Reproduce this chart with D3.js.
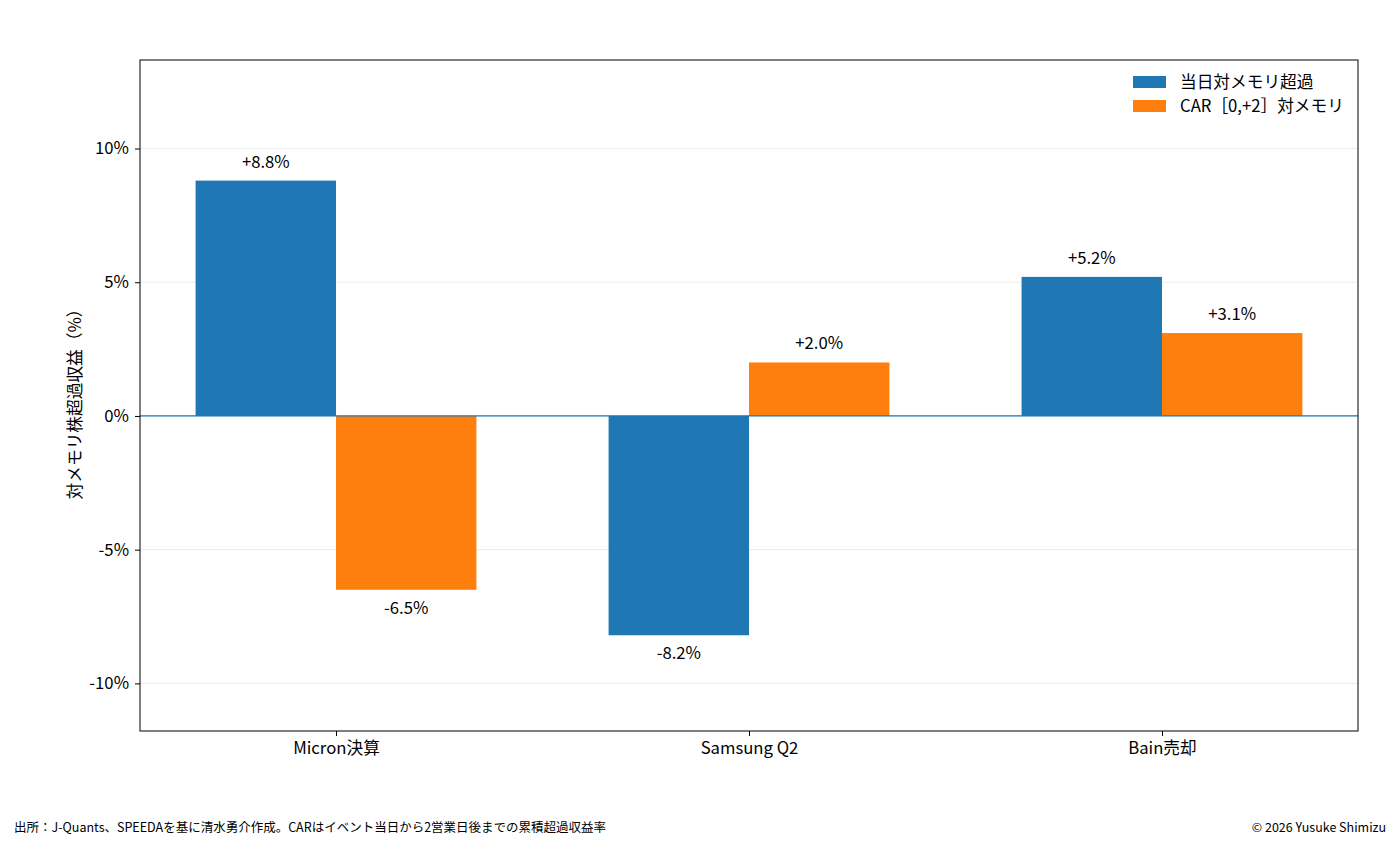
<!DOCTYPE html>
<html>
<head>
<meta charset="utf-8">
<script src="https://cdn.jsdelivr.net/npm/d3@7"></script>
<style>
body { margin: 0; background: #fff; }
text { font-family: "Noto Sans CJK JP", "Noto Sans", sans-serif; fill: #000; }
</style>
</head>
<body>
<div id="chart"></div>
<script>
// data
const categories = ["Micron決算", "Samsung Q2", "Bain売却"];
const sameDay = [8.8, -8.2, 5.2];
const car = [-6.5, 2.0, 3.1];
const seriesNames = ["当日対メモリ超過", "CAR［0,+2］対メモリ"];
const colors = ["#1f77b4", "#ff7f0e"];
const yTicks = [-10, -5, 0, 5, 10];

const outerWidth = 1400;
const outerHeight = 850;
const margin = { top: 60, right: 42, bottom: 119, left: 140 };
const width = outerWidth - margin.left - margin.right;
const height = outerHeight - margin.top - margin.bottom;
const fs = "16.7px";

const svg = d3.select("#chart").append("svg")
	.attr("width", outerWidth)
	.attr("height", outerHeight);

const g = svg.append("g")
	.attr("transform", `translate(${margin.left}, ${margin.top})`);

const barW = 0.34;
const x = d3.scaleLinear()
	.domain([-0.4746, categories.length - 1 + 0.4746])
	.range([0, width]);

const y = d3.scaleLinear()
	.domain([-11.78, 13.31])
	.range([height, 0]);

// grid
g.selectAll(".grid")
	.data(yTicks)
	.enter()
	.append("line")
	.attr("x1", 0)
	.attr("x2", width)
	.attr("y1", d => y(d))
	.attr("y2", d => y(d))
	.attr("stroke", "#e6e6e6")
	.attr("stroke-width", 0.8);

const series = [sameDay, car];

series.forEach((vals, si) => {
	const off = si === 0 ? -barW : 0;
	g.selectAll(".bar" + si)
		.data(vals)
		.enter()
		.append("rect")
		.attr("x", (d, i) => x(i + off))
		.attr("width", x(barW) - x(0))
		.attr("y", d => y(Math.max(0, d)))
		.attr("height", d => Math.abs(y(d) - y(0)))
		.attr("fill", colors[si]);

	g.selectAll(".lab" + si)
		.data(vals)
		.enter()
		.append("text")
		.attr("x", (d, i) => x(i + off + barW / 2))
		.attr("y", d => d >= 0 ? y(d) - 13 : y(d) + 24)
		.attr("text-anchor", "middle")
		.style("font-size", fs)
		.text(d => (d > 0 ? "+" : "") + d.toFixed(1) + "%");
});

// zero line
g.append("line")
	.attr("x1", 0)
	.attr("x2", width)
	.attr("y1", y(0))
	.attr("y2", y(0))
	.attr("stroke", "#1f77b4")
	.attr("stroke-width", 1.2);

// axes
const yAxis = g.append("g")
	.call(d3.axisLeft(y).tickValues(yTicks).tickSize(5).tickPadding(6).tickFormat(d => d + "%"));
yAxis.select(".domain").remove();
yAxis.selectAll("text").style("font-size", fs);

const xAxis = g.append("g")
	.attr("transform", `translate(0, ${height})`)
	.call(d3.axisBottom(x).tickValues(d3.range(categories.length)).tickSize(5).tickPadding(6).tickFormat(i => categories[i]));
xAxis.select(".domain").remove();
xAxis.selectAll("text").style("font-size", fs);

// frame
g.append("rect")
	.attr("width", width)
	.attr("height", height)
	.attr("fill", "none")
	.attr("stroke", "#000")
	.attr("stroke-width", 1);

// y label
g.append("text")
	.attr("transform", "rotate(-90)")
	.attr("x", -y(0) + 16)
	.attr("y", -59)
	.attr("text-anchor", "middle")
	.style("font-size", fs)
	.text("対メモリ株超過収益（%）");

// legend
const legend = g.selectAll(".legend")
	.data(seriesNames)
	.enter()
	.append("g")
	.attr("transform", (d, i) => `translate(${993}, ${16 + i * 24})`);

legend.append("rect")
	.attr("width", 33)
	.attr("height", 12)
	.attr("fill", (d, i) => colors[i]);

legend.append("text")
	.attr("x", 47)
	.attr("y", 6)
	.attr("dy", ".35em")
	.style("font-size", fs)
	.text(d => d);

// footer
svg.append("text")
	.attr("x", 14)
	.attr("y", 832)
	.style("font-size", "12.5px")
	.text("出所：J-Quants、SPEEDAを基に清水勇介作成。CARはイベント当日から2営業日後までの累積超過収益率");

svg.append("text")
	.attr("x", 1386)
	.attr("y", 832)
	.attr("text-anchor", "end")
	.style("font-size", "12.5px")
	.text("© 2026 Yusuke Shimizu");
</script>
</body>
</html>
